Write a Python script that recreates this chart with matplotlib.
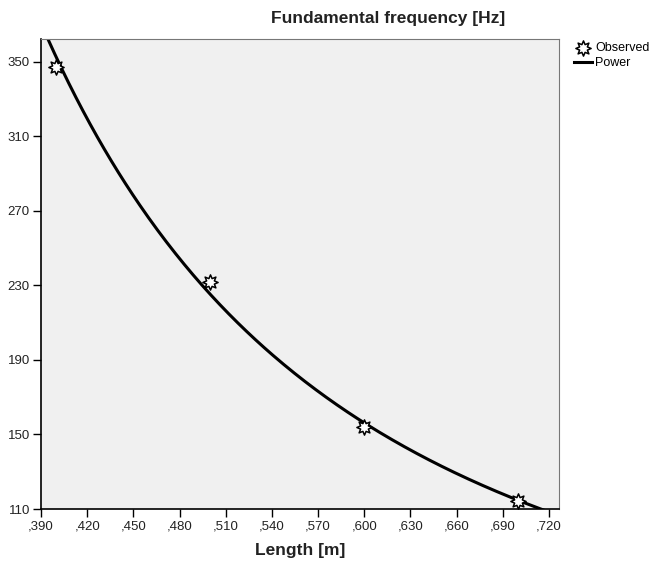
import numpy as np
import matplotlib
matplotlib.use('Agg')
import matplotlib.pyplot as plt
from matplotlib.ticker import FuncFormatter
from matplotlib.path import Path

# 관측값 (길이 [m], 기본 진동수 [Hz])
length = [0.40, 0.50, 0.60, 0.70]
freq = [347.5, 232.0, 154.0, 114.5]

x_ticks = [0.39, 0.42, 0.45, 0.48, 0.51, 0.54, 0.57, 0.60, 0.63, 0.66, 0.69, 0.72]
y_ticks = [110, 150, 190, 230, 270, 310, 350]

# power 곡선 적합 f = a * L^b
b, ln_a = np.polyfit(np.log(length), np.log(freq), 1)
xs = np.linspace(0.385, 0.73, 300)
ys = np.exp(ln_a) * xs ** b

# 해 모양 마커 (8개 뾰족한 점)
ang = np.linspace(0, 2 * np.pi, 17)[:-1] + np.pi / 2
rad = np.where(np.arange(16) % 2 == 0, 1.0, 0.55)
verts = np.column_stack([rad * np.cos(ang), rad * np.sin(ang)])
verts = np.vstack([verts, verts[0]])
sun = Path(verts, [Path.MOVETO] + [Path.LINETO] * 15 + [Path.CLOSEPOLY])

plt.rcParams['font.family'] = ['Liberation Sans', 'DejaVu Sans']

fig = plt.figure(figsize=(6.58, 5.61), dpi=100)
ax = fig.add_axes([41 / 658, 1 - 509 / 561, (559 - 41) / 658, (509 - 39) / 561])
ax.set_facecolor('#f0f0f0')

ax.plot(xs, ys, color='black', lw=2.2, label='Power', zorder=2)
ax.scatter(length, freq, marker=sun, s=120, facecolor='white',
           edgecolor='black', linewidth=1.1, label='Observed', zorder=3)

ax.set_xlim(0.39, 0.7265)
ax.set_ylim(110, 362.3)
ax.set_xticks(x_ticks)
ax.set_yticks(y_ticks)
ax.xaxis.set_major_formatter(FuncFormatter(lambda v, p: ',' + f'{v:.3f}'.split('.')[1]))
ax.tick_params(direction='out', length=6, width=1, labelsize=9.5, labelcolor='#222222', pad=2)

for s in ['top', 'right']:
    ax.spines[s].set_color('#777777')
for s in ['left', 'bottom']:
    ax.spines[s].set_color('black')
    ax.spines[s].set_linewidth(1.2)

fig.text(388 / 658, 1 - 18 / 561, 'Fundamental frequency [Hz]', ha='center', va='center',
         fontsize=12.5, fontweight='bold', color='#222222')
fig.text(300 / 658, 1 - 551 / 561, 'Length [m]', ha='center', va='center',
         fontsize=12.5, fontweight='bold', color='#222222')

handles, labels = ax.get_legend_handles_labels()
leg = fig.legend(handles[::-1], labels[::-1], loc='upper left', bbox_to_anchor=(569 / 658, 1 - 37 / 561),
                 frameon=False, fontsize=9, handlelength=1.4, handletextpad=0.3,
                 labelspacing=0.25, borderaxespad=0)

plt.savefig('out.png', dpi=100)
